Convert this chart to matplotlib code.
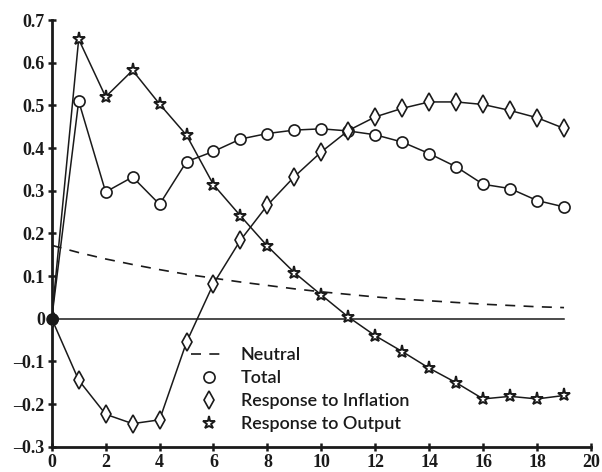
import numpy as np
import matplotlib
matplotlib.use('Agg')
import matplotlib.pyplot as plt
from matplotlib.lines import Line2D

# horizon (periods)
periods = list(range(20))

neutral = [0.172, 0.155, 0.14, 0.127, 0.115, 0.104, 0.095, 0.086, 0.078, 0.07,
           0.063, 0.057, 0.051, 0.046, 0.042, 0.038, 0.034, 0.031, 0.028, 0.026]
total = [0.0, 0.51, 0.297, 0.332, 0.268, 0.368, 0.392, 0.421, 0.434, 0.442,
         0.445, 0.44, 0.431, 0.414, 0.387, 0.356, 0.315, 0.305, 0.277, 0.262]
resp_inflation = [0.0, -0.144, -0.224, -0.246, -0.237, -0.055, 0.082, 0.184, 0.266, 0.333,
                  0.391, 0.441, 0.473, 0.493, 0.508, 0.508, 0.502, 0.488, 0.471, 0.446]
resp_output = [0.0, 0.655, 0.52, 0.582, 0.503, 0.43, 0.314, 0.241, 0.17, 0.108,
               0.0555, 0.004, -0.04, -0.077, -0.116, -0.15, -0.188, -0.182, -0.188, -0.18]

xticks = list(range(0, 21, 2))
yticks = [-0.3, -0.2, -0.1, 0, 0.1, 0.2, 0.3, 0.4, 0.5, 0.6, 0.7]
ytick_labels = ['\u20130.3', '\u20130.2', '\u20130.1', '0', '0.1', '0.2', '0.3', '0.4', '0.5', '0.6', '0.7']

fig = plt.figure(figsize=(6.02, 4.72), dpi=100)
ax = fig.add_axes([0.0859, 0.0536, 0.8958, 0.904])

# zero line
ax.plot([0, 19], [0, 0], color='#1a1a1a', lw=1.1, zorder=1)

ax.plot(periods, neutral, color='#1a1a1a', lw=1.2, dashes=(6, 5), zorder=2)
ax.plot(periods, total, color='#1a1a1a', lw=1.1, marker='o', ms=8,
        mfc='white', mec='#1a1a1a', mew=1.2, zorder=3)
ax.plot(periods, resp_inflation, color='#1a1a1a', lw=1.1, marker='d', ms=9,
        mfc='white', mec='#1a1a1a', mew=1.2, zorder=3)
ax.plot(periods, resp_output, color='#1a1a1a', lw=1.1, marker='*', ms=9.5,
        mfc='white', mec='#1a1a1a', mew=1.4, zorder=4)
ax.plot([0], [0], marker='o', ms=8, color='#1a1a1a', zorder=5, clip_on=False)

ax.set_xlim(0, 20)
ax.set_ylim(-0.3, 0.7)
ax.set_xticks(xticks)
ax.set_yticks(yticks)
ax.set_yticklabels(ytick_labels)

for s in ['top', 'right']:
    ax.spines[s].set_visible(False)
for s in ['left', 'bottom']:
    ax.spines[s].set_linewidth(2)
    ax.spines[s].set_color('#1a1a1a')

ax.tick_params(direction='inout', length=6, width=1.8, color='#1a1a1a', pad=2)
for lab in ax.get_xticklabels() + ax.get_yticklabels():
    lab.set_fontfamily('Liberation Serif')
    lab.set_fontweight('bold')
    lab.set_fontsize(13)
    lab.set_color('#1a1a1a')

handles = [
    Line2D([], [], color='#1a1a1a', lw=1.2, dashes=(6, 5)),
    Line2D([], [], ls='none', marker='o', ms=8, mfc='white', mec='#1a1a1a', mew=1.2),
    Line2D([], [], ls='none', marker='d', ms=9, mfc='white', mec='#1a1a1a', mew=1.2),
    Line2D([], [], ls='none', marker='*', ms=9.5, mfc='white', mec='#1a1a1a', mew=1.4),
]
labels = ['Neutral', 'Total', 'Response to Inflation', 'Response to Output']
leg = ax.legend(handles, labels, loc='upper left', bbox_to_anchor=(0.245, 0.25),
                frameon=False, handlelength=2.0, handletextpad=0.75, labelspacing=0.38,
                prop={'family': 'Lato', 'weight': 'semibold', 'size': 13},
                borderaxespad=0)
for t in leg.get_texts():
    t.set_color('#1a1a1a')

fig.savefig('out.png', dpi=100)
